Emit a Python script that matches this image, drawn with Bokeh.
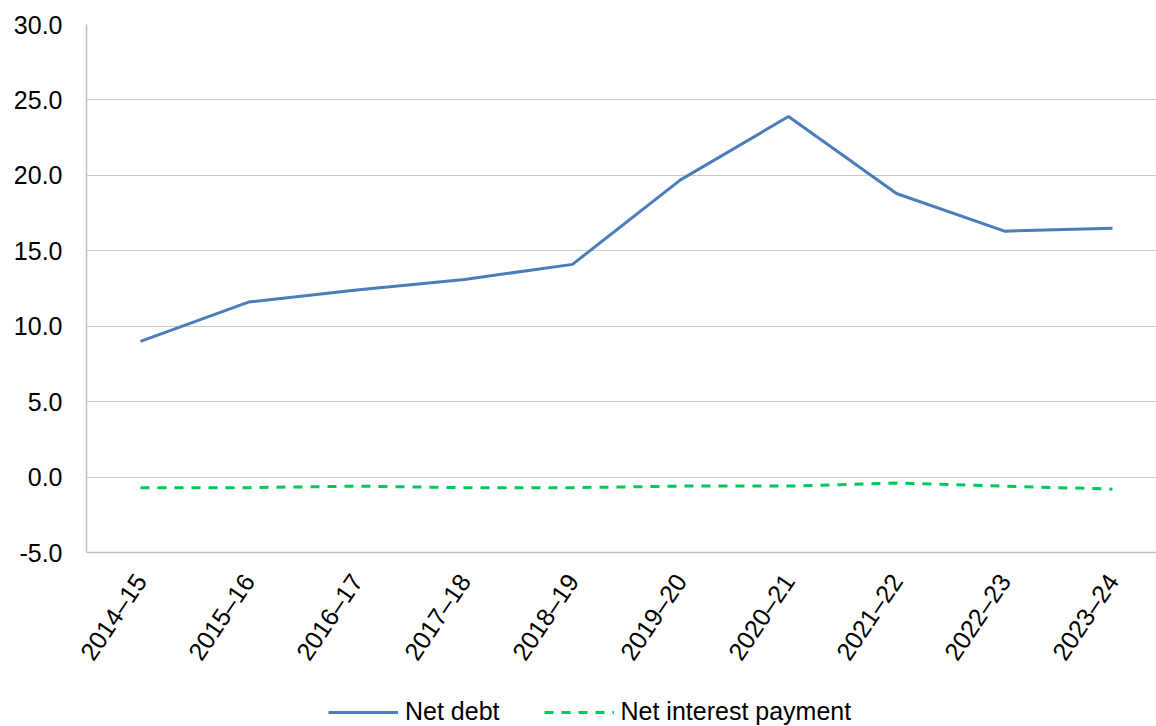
import math
from bokeh.plotting import figure
from bokeh.layouts import column
from bokeh.models import Range1d, FixedTicker, Legend, LegendItem, NumeralTickFormatter
from bokeh.embed import file_html
from bokeh.resources import INLINE

years = ["2014–15", "2015–16", "2016–17", "2017–18", "2018–19",
         "2019–20", "2020–21", "2021–22", "2022–23", "2023–24"]
net_debt = [9.0, 11.6, 12.4, 13.1, 14.1, 19.7, 23.9, 18.8, 16.3, 16.5]
net_interest = [-0.7, -0.7, -0.6, -0.7, -0.7, -0.6, -0.6, -0.4, -0.6, -0.8]
y_ticks = [-5, 0, 5, 10, 15, 20, 25, 30]
series_names = ["Net debt", "Net interest payment"]

xs = list(range(len(years)))
FONT = "Liberation Sans"
BLUE = "#4a7ebb"
GREEN = "#00c85a"
DASH = "9 8"

p = figure(width=1156, height=694, output_backend="svg", toolbar_location=None,
           x_range=Range1d(-0.5, 9.5 - 10 / 108), y_range=Range1d(-5, 30),
           min_border_left=86, min_border_top=24, min_border_right=0, min_border_bottom=142)
p.outline_line_color = None
p.background_fill_color = "white"

l1 = p.line(xs, net_debt, line_color=BLUE, line_width=3)
l2 = p.line(xs, net_interest, line_color=GREEN, line_width=3, line_dash=DASH)

p.xaxis.ticker = FixedTicker(ticks=xs)
p.xaxis.major_label_overrides = {i: y for i, y in enumerate(years)}
p.xaxis.major_label_orientation = math.radians(56)
p.xaxis.major_tick_line_color = None
p.xaxis.minor_tick_line_color = None
p.xaxis.axis_line_color = "#bfbfbf"
p.xaxis.axis_line_width = 1.5
p.xaxis.major_label_standoff = 18
p.xaxis.major_label_text_font = FONT
p.xaxis.major_label_text_font_size = "25px"
p.xaxis.major_label_text_color = "black"

p.yaxis.ticker = FixedTicker(ticks=y_ticks)
p.yaxis.formatter = NumeralTickFormatter(format="0.0")
p.yaxis.major_tick_line_color = None
p.yaxis.minor_tick_line_color = None
p.yaxis.axis_line_color = "#bfbfbf"
p.yaxis.axis_line_width = 1.5
p.yaxis.major_label_standoff = 18
p.yaxis.major_label_text_font = FONT
p.yaxis.major_label_text_font_size = "25px"
p.yaxis.major_label_text_color = "black"

p.xgrid.grid_line_color = None
p.ygrid.grid_line_color = "#c8c8c8"
p.ygrid.grid_line_width = 1.2

# legend strip below the chart (series drawn out of view, only used for the legend)
lf = figure(width=1156, height=32, output_backend="svg", toolbar_location=None,
            x_range=Range1d(-0.5, 9.5), y_range=Range1d(100, 101),
            min_border=0, x_axis_type=None, y_axis_type=None)
lf.outline_line_color = None
lf.xgrid.visible = False
lf.ygrid.visible = False
d1 = lf.line(xs, net_debt, line_color=BLUE, line_width=3)
d2 = lf.line(xs, net_interest, line_color=GREEN, line_width=3, line_dash=DASH)
legend = Legend(items=[LegendItem(label=series_names[0], renderers=[d1]),
                       LegendItem(label=series_names[1], renderers=[d2])],
                orientation="horizontal", location=(242, 0),
                glyph_width=70, glyph_height=20, label_standoff=7, spacing=44,
                label_text_font=FONT, label_text_font_size="25px",
                label_text_color="black", label_height=28,
                border_line_color=None, background_fill_alpha=0,
                padding=0, margin=0)
lf.add_layout(legend, "center")

layout = column(p, lf, spacing=0)
open("out.html", "w").write(file_html(layout, INLINE))
